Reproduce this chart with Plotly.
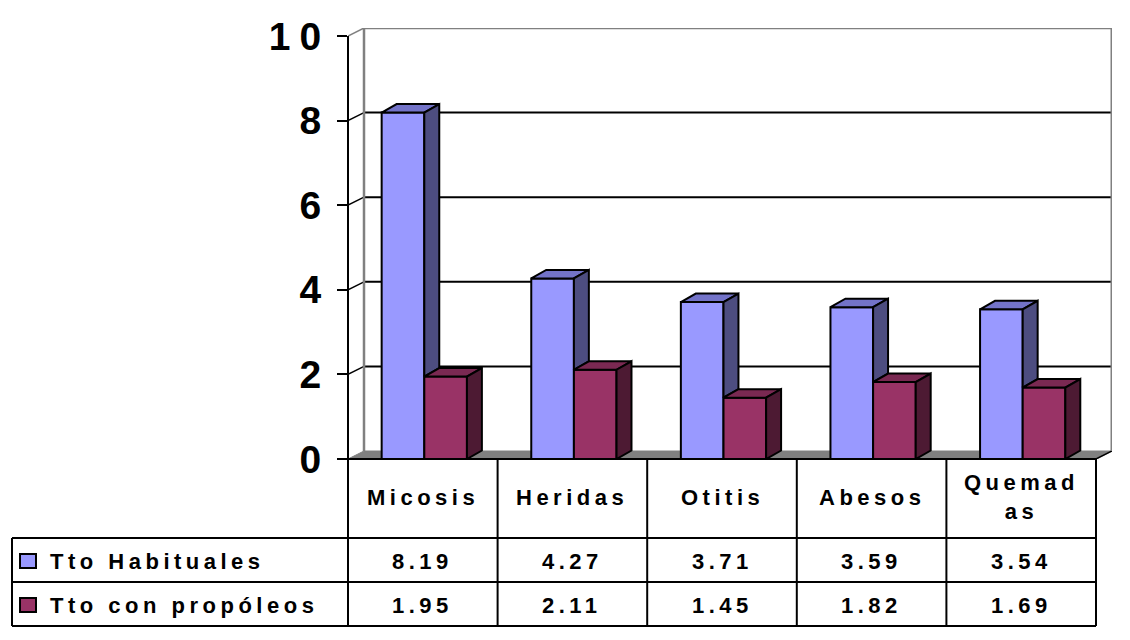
import plotly.graph_objects as go

# ---------------- data ----------------
categories = ["Micosis", "Heridas", "Otitis", "Abesos", "Quemadas"]
category_labels = ["Micosis", "Heridas", "Otitis", "Abesos", "Quemad<br>as"]
series_names = ["Tto Habituales", "Tto con propóleos"]
habituales = [8.19, 4.27, 3.71, 3.59, 3.54]
propoleos = [1.95, 2.11, 1.45, 1.82, 1.69]
y_tick_values = [0, 2, 4, 6, 8, 10]
y_tick_labels = ["0", "2", "4", "6", "8", "10"]

# ---------------- style / layout ----------------
W, H = 1130, 640
ML, MR, MT, MB = 348, 18, 28, 181
n = len(categories)
COL_PX = 149.6
UNIT_PX = 42.3
WALL_DX = 16 / COL_PX
WALL_DY = 8 / UNIT_PX
BAR_DX = 0.1
BAR_DY = 0.2
BAR_W = 0.285
YMAX = 10
FONT = "Liberation Sans, Arial, sans-serif"

front_colors = ["#9999FF", "#993366"]
top_colors = ["#7373C8", "#7A2952"]
side_colors = ["#4D4D80", "#4D1A33"]
offsets = [-BAR_W + 0.01, 0.01]
series_values = [habituales, propoleos]

PW = W - ML - MR
PH = H - MT - MB


def px_x(px):
    return (px - ML) / PW


def px_y(py):
    return (H - MB - py) / PH


def spaced(text, sp):
    return f'<span style="letter-spacing:{sp}px">{text}</span>'


fig = go.Figure()

# front faces
for s in range(2):
    fig.add_trace(go.Bar(
        x=list(range(n)), y=series_values[s], name=series_names[s],
        width=BAR_W, offset=offsets[s],
        marker=dict(color=front_colors[s], line=dict(color="black", width=2)),
        showlegend=False, hoverinfo="skip",
    ))

# top and side faces
for s in range(2):
    vals = series_values[s]
    tx, ty, sx, sy = [], [], [], []
    for i, v in enumerate(vals):
        x0 = i + offsets[s]
        x1 = x0 + BAR_W
        tx += [x0, x1, x1 + BAR_DX, x0 + BAR_DX, x0, None]
        ty += [v, v, v + BAR_DY, v + BAR_DY, v, None]
        if s == 0:
            lo = max(propoleos[i], 0)  # part hidden behind the neighbouring bar
            if v > lo:
                sx += [x1, x1 + BAR_DX, x1 + BAR_DX, x1, x1, None]
                sy += [lo, lo + BAR_DY, v + BAR_DY, v, lo, None]
        else:
            sx += [x1, x1 + BAR_DX, x1 + BAR_DX, x1, x1, None]
            sy += [0, BAR_DY, v + BAR_DY, v, 0, None]
    fig.add_trace(go.Scatter(x=tx, y=ty, mode="lines", fill="toself",
                             fillcolor=top_colors[s],
                             line=dict(color="black", width=2),
                             showlegend=False, hoverinfo="skip"))
    fig.add_trace(go.Scatter(x=sx, y=sy, mode="lines", fill="toself",
                             fillcolor=side_colors[s],
                             line=dict(color="black", width=2),
                             showlegend=False, hoverinfo="skip"))

shapes = []
xl, xr = -0.5, n - 0.5
# floor
shapes.append(dict(type="path", xref="x", yref="y", layer="below",
                   path=f"M {xl},0 L {xr},0 L {xr + WALL_DX},{WALL_DY} L {xl + WALL_DX},{WALL_DY} Z",
                   fillcolor="#808080", line=dict(color="#808080", width=1)))
shapes.append(dict(type="line", xref="x", yref="y", layer="below",
                   x0=xr, y0=0, x1=xr + WALL_DX, y1=WALL_DY,
                   line=dict(color="black", width=1.5)))
# back wall grid lines
for v in y_tick_values[1:]:
    col = "#808080" if v == YMAX else "black"
    w = 2.5 if v == YMAX else 2
    shapes.append(dict(type="line", xref="x", yref="y", layer="below",
                       x0=xl + WALL_DX, y0=v + WALL_DY, x1=xr + WALL_DX, y1=v + WALL_DY,
                       line=dict(color=col, width=w)))
    shapes.append(dict(type="line", xref="x", yref="y", layer="below",
                       x0=xl, y0=v, x1=xl + WALL_DX, y1=v + WALL_DY,
                       line=dict(color=col, width=1.5)))
# back wall side edges
shapes.append(dict(type="line", xref="x", yref="y", layer="below",
                   x0=xl + WALL_DX, y0=WALL_DY, x1=xl + WALL_DX, y1=YMAX + WALL_DY,
                   line=dict(color="#808080", width=2.5)))
shapes.append(dict(type="line", xref="x", yref="y", layer="below",
                   x0=xr + WALL_DX, y0=WALL_DY, x1=xr + WALL_DX, y1=YMAX + WALL_DY,
                   line=dict(color="#808080", width=3)))

# value axis line + table
top_px = H - MB - YMAX * UNIT_PX
row_y = [H - MB, 538, 582, 626]
table_left = 12


def pline(x0, y0, x1, y1, w=2):
    shapes.append(dict(type="line", xref="paper", yref="paper",
                       x0=px_x(x0), y0=px_y(y0), x1=px_x(x1), y1=px_y(y1),
                       line=dict(color="black", width=w)))


col_edges = [ML + i * COL_PX for i in range(n + 1)]
pline(ML, top_px, ML, row_y[-1])
pline(ML, row_y[0], col_edges[-1], row_y[0])
for ry in row_y[1:]:
    pline(table_left, ry, col_edges[-1], ry)
pline(table_left, row_y[1], table_left, row_y[-1])
for ce in col_edges[1:]:
    pline(ce, row_y[0], ce, row_y[-1])

annotations = []
tfont = dict(family=FONT, size=22, color="black", weight="bold")
for i, lab in enumerate(category_labels):
    annotations.append(dict(xref="x", yref="paper", x=i, y=px_y(497),
                            text=spaced(lab, 4.5), showarrow=False, font=tfont,
                            xanchor="center", yanchor="middle"))
row_c = [(row_y[1] + row_y[2]) / 2 + 1, (row_y[2] + row_y[3]) / 2 + 1]
for s in range(2):
    for i, v in enumerate(series_values[s]):
        annotations.append(dict(xref="x", yref="paper", x=i, y=px_y(row_c[s]),
                                text=spaced(f"{v:.2f}", 4.5), showarrow=False, font=tfont,
                                xanchor="center", yanchor="middle"))
    # legend key + label
    shapes.append(dict(type="rect", xref="paper", yref="paper",
                       x0=px_x(20), x1=px_x(36), y0=px_y(row_c[s] - 7), y1=px_y(row_c[s] + 7),
                       fillcolor=front_colors[s], line=dict(color="black", width=2)))
    annotations.append(dict(xref="paper", yref="paper", x=px_x(48), y=px_y(row_c[s]),
                            text=spaced(series_names[s], 4.5), showarrow=False, font=tfont,
                            xanchor="left", yanchor="middle"))

fig.update_layout(
    width=W, height=H,
    margin=dict(l=ML, r=MR, t=MT, b=MB, pad=0),
    paper_bgcolor="white", plot_bgcolor="white",
    barmode="overlay",
    shapes=shapes, annotations=annotations,
    showlegend=False,
    xaxis=dict(range=[xl, xr + WALL_DX], visible=False, fixedrange=True),
    yaxis=dict(range=[0, YMAX + WALL_DY], tickvals=y_tick_values,
               ticktext=[spaced(t, 9) for t in y_tick_labels],
               ticks="outside", ticklen=10, tickwidth=2, tickcolor="black",
               showgrid=False, zeroline=False, showline=False,
               tickfont=dict(family=FONT, size=39, color="black", weight="bold"),
               ticklabelstandoff=-1, fixedrange=True),
    font=dict(family=FONT),
)

fig.write_html("out.html", config={"displayModeBar": False})
